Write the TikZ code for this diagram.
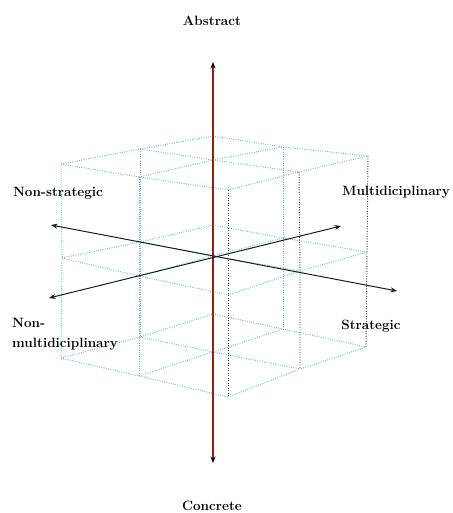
\documentclass[tikz,border=0pt]{standalone}
\usetikzlibrary{arrows.meta}
\definecolor{gridblue}{RGB}{110,180,225}
\definecolor{griddark}{RGB}{70,50,50}
\definecolor{axisred}{RGB}{150,30,12}
\definecolor{axisdark}{RGB}{20,30,40}
\begin{document}
\begin{tikzpicture}[x=1pt,y=-1pt,
  gridline/.style={gridblue, line width=0.95pt, dash pattern=on 0.9pt off 1.4pt},
  frontline/.style={griddark, line width=0.95pt, dash pattern=on 0.9pt off 1.6pt},
  axisarrow/.style={axisdark, line width=1pt, {Stealth[length=6.5pt,width=5pt]}-{Stealth[length=6.5pt,width=5pt]}},
  vaxis/.style={axisred, line width=1.1pt, {Stealth[color=black,length=6.5pt,width=5pt]}-{Stealth[color=black,length=6.5pt,width=5pt]}},
  axislabel/.style={font=\fontsize{13.5}{16}\selectfont\bfseries, inner sep=0pt}
]
\useasboundingbox (0,0) rectangle (452,513);

% top layer
\coordinate (t-L)  at (61,164);
\coordinate (t-BL) at (140,149);
\coordinate (t-B)  at (213,136);
\coordinate (t-BR) at (283,147);
\coordinate (t-R)  at (368,156);
\coordinate (t-FR) at (299,172);
\coordinate (t-F)  at (228,190);
\coordinate (t-FL) at (139,177);
\coordinate (t-C)  at (213,160);
% middle layer
\coordinate (m-L)  at (62,258);
\coordinate (m-BL) at (140,242);
\coordinate (m-B)  at (213,225);
\coordinate (m-BR) at (283,238);
\coordinate (m-R)  at (367,252);
\coordinate (m-FR) at (300,271);
\coordinate (m-F)  at (228,295);
\coordinate (m-FL) at (139,276);
\coordinate (m-C)  at (213,256);
% bottom layer
\coordinate (b-L)  at (61,358);
\coordinate (b-BL) at (140,337);
\coordinate (b-B)  at (213,314);
\coordinate (b-BR) at (283,329);
\coordinate (b-R)  at (366,347);
\coordinate (b-FR) at (300,369);
\coordinate (b-F)  at (228,397);
\coordinate (b-FL) at (139,376);
\coordinate (b-C)  at (213,352);

% horizontal grid lines
\foreach \l in {t,m,b}{
  \draw[gridline] (\l-L) -- (\l-BL) -- (\l-B);
  \draw[gridline] (\l-FL) -- (\l-C) -- (\l-BR);
  \draw[gridline] (\l-F) -- (\l-FR) -- (\l-R);
  \draw[gridline] (\l-B) -- (\l-BR) -- (\l-R);
  \draw[gridline] (\l-BL) -- (\l-C) -- (\l-FR);
  \draw[gridline] (\l-L) -- (\l-FL) -- (\l-F);
}
% vertical grid lines
\foreach \p in {L,BL,B,BR,FL,C}{
  \draw[gridline] (t-\p) -- (m-\p) -- (b-\p);
}
\foreach \p in {F,FR,R}{
  \draw[frontline] (t-\p) -- (m-\p) -- (b-\p);
}

% axes
\coordinate (axtop) at (213,62);
\coordinate (axbot) at (213,463);
\coordinate (nstip) at (51,225);
\coordinate (stip)  at (397,291);
\coordinate (nmtip) at (49,298);
\coordinate (mtip)  at (341,226);

\draw[vaxis] (axtop) -- (axbot);
\draw[axisarrow] (nstip) -- (stip);
\draw[axisarrow] (nmtip) -- (mtip);

% labels
\node[axislabel] (abstract) at (212,21) {Abstract};
\node[axislabel] (concrete) at (212,506) {Concrete};
\node[axislabel] (nonstrat) at (58,193) {Non-strategic};
\node[axislabel] (multi) at (396,192) {Multidiciplinary};
\node[axislabel] (strat) at (371,326) {Strategic};
\node[axislabel, font=\fontsize{13.5}{20}\selectfont\bfseries, align=left, anchor=west] (nonmulti) at (12,334) {Non-\\multidiciplinary};
\end{tikzpicture}
\end{document}
